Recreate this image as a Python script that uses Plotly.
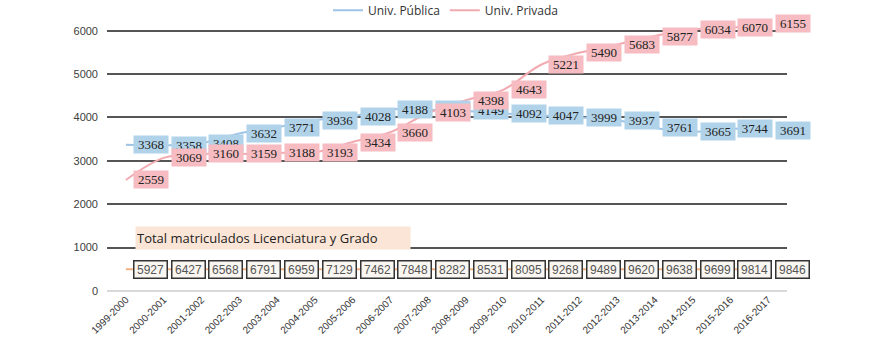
import plotly.graph_objects as go

categories = ["1999-2000", "2000-2001", "2001-2002", "2002-2003", "2003-2004", "2004-2005",
              "2005-2006", "2006-2007", "2007-2008", "2008-2009", "2009-2010", "2010-2011",
              "2011-2012", "2012-2013", "2013-2014", "2014-2015", "2015-2016", "2016-2017"]
publica = [3368, 3358, 3408, 3632, 3771, 3936, 4028, 4188, 4179, 4149, 4092, 4047,
           3999, 3937, 3761, 3665, 3744, 3691]
privada = [2559, 3069, 3160, 3159, 3188, 3193, 3434, 3660, 4103, 4398, 4643, 5221,
           5490, 5683, 5877, 6034, 6070, 6155]
totales = [5927, 6427, 6568, 6791, 6959, 7129, 7462, 7848, 8282, 8531, 8095, 9268,
           9489, 9620, 9638, 9699, 9814, 9846]
y_ticks = [0, 1000, 2000, 3000, 4000, 5000, 6000]

TOTAL_ROW_LEVEL = 500  # vertical level of the totals row

C_PUB_LINE = "#9dc3e6"
C_PRI_LINE = "#f2aab1"
C_TOT_LINE = "#f4b183"
C_PUB_BOX = "#b0d3ea"
C_PRI_BOX = "#f6bcc1"

fig = go.Figure()
fig.add_trace(go.Scatter(x=categories, y=publica, mode="lines", name="Univ. Pública",
                         line=dict(color=C_PUB_LINE, width=2, shape="spline"), cliponaxis=False))
fig.add_trace(go.Scatter(x=categories, y=privada, mode="lines", name="Univ. Privada",
                         line=dict(color=C_PRI_LINE, width=2, shape="spline"), cliponaxis=False))
fig.add_trace(go.Scatter(x=categories, y=[TOTAL_ROW_LEVEL] * len(categories), mode="lines",
                         showlegend=False, line=dict(color=C_TOT_LINE, width=2), cliponaxis=False))

annotations = []
lab_font = dict(family="Liberation Serif, DejaVu Serif, serif", size=13, color="#222222")
for c, v in zip(categories, publica):
    annotations.append(dict(x=c, y=v, xref="x", yref="y", text=str(v), showarrow=False,
                            xanchor="left", yanchor="middle", xshift=7, width=32, height=15,
                            bgcolor=C_PUB_BOX, borderpad=1, font=lab_font))
for c, v in zip(categories, privada):
    annotations.append(dict(x=c, y=v, xref="x", yref="y", text=str(v), showarrow=False,
                            xanchor="left", yanchor="middle", xshift=7, width=32, height=15,
                            bgcolor=C_PRI_BOX, borderpad=1, font=lab_font))
for c, v in zip(categories, totales):
    annotations.append(dict(x=c, y=TOTAL_ROW_LEVEL, xref="x", yref="y", text=str(v), showarrow=False,
                            xanchor="left", yanchor="middle", xshift=7, width=30, height=14,
                            bgcolor="#f9f6f1", bordercolor="#333333", borderwidth=1.5, borderpad=1,
                            font=dict(family="Liberation Sans, Arial, sans-serif", size=12, color="#555555")))
annotations.append(dict(x=0.041, y=1220, xref="paper", yref="y", text="Total matriculados Licenciatura y Grado",
                        showarrow=False, xanchor="left", yanchor="middle", width=272, height=20,
                        bgcolor="#fbe5d6", borderpad=1, align="left",
                        font=dict(family="Open Sans, Liberation Sans, sans-serif", size=13, color="#222222")))

fig.update_layout(
    width=880, height=350,
    margin=dict(l=107, r=93, t=22, b=59, autoexpand=False),
    paper_bgcolor="white", plot_bgcolor="white",
    annotations=annotations,
    showlegend=True,
    legend=dict(orientation="h", x=0.325, xanchor="left", y=1.044, yanchor="middle",
                font=dict(family="Open Sans, Liberation Sans, sans-serif", size=12, color="#333333"),
                itemwidth=30, tracegroupgap=0),
    xaxis=dict(range=[-0.5, len(categories) - 0.5], tickangle=-45,
               tickfont=dict(family="Liberation Sans, Arial, sans-serif", size=10, color="#333333"),
               showgrid=False, showline=False, ticks=""),
    yaxis=dict(range=[0, 6200], tickvals=y_ticks, showgrid=True, gridcolor="#555555", gridwidth=2,
               zeroline=True, zerolinecolor="#d9d9d9", zerolinewidth=2,
               tickfont=dict(family="Liberation Sans, Arial, sans-serif", size=11, color="#404040"),
               ticklabelstandoff=8),
)

fig.write_html("out.html")
